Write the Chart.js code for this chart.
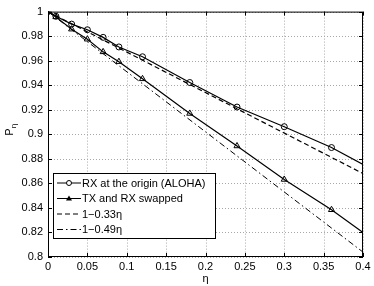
<!DOCTYPE html>
<html>
<head>
<meta charset="utf-8">
<script src="https://cdn.jsdelivr.net/npm/chart.js@4/dist/chart.umd.min.js"></script>
<style>
  html, body { margin: 0; padding: 0; background: #fff; }
  #wrap { width: 374px; height: 286px; }
</style>
</head>
<body>
<div id="wrap"><canvas id="pChart" width="374" height="286"></canvas></div>
<script>
// values
const etaPoints = [0, 0.01, 0.03, 0.05, 0.07, 0.09, 0.12, 0.18, 0.24, 0.30, 0.36, 0.40];
const rxOrigin  = [1, 0.9962, 0.9898, 0.9852, 0.9790, 0.9712, 0.9632, 0.9422, 0.9222, 0.9062, 0.8892, 0.8755];
const swapped   = [1, 0.9957, 0.9857, 0.9775, 0.9672, 0.9592, 0.9452, 0.9170, 0.8905, 0.8632, 0.8385, 0.8200];
const fitEta    = [0, 0.4];
const fit033    = [1, 0.868];
const fit049    = [1, 0.804];
const xTicks = [0, 0.05, 0.1, 0.15, 0.2, 0.25, 0.3, 0.35, 0.4];
const yTicks = [0.8, 0.82, 0.84, 0.86, 0.88, 0.9, 0.92, 0.94, 0.96, 0.98, 1];
const legendLabels = ['RX at the origin (ALOHA)', 'TX and RX swapped', '1\u22120.33\u03b7', '1\u22120.49\u03b7'];

const FONT = 'Liberation Sans, Arial, Helvetica, sans-serif';

function toXY(xs, ys) {
    return xs.map(function (x, i) { return { x: x, y: ys[i] }; });
}

// markers only on the sampled points, not at the line end at 0.4
function markerRadius(r) {
    return function (ctx) { return ctx.dataIndex === etaPoints.length - 1 ? 0 : r; };
}

function fmt(v) {
    return String(Number(v.toFixed(2)));
}

// dotted grid under the lines
const gridPlugin = {
    id: 'dotGrid',
    beforeDatasetsDraw: function (chart) {
        const c = chart.ctx;
        const a = chart.chartArea;
        const xs = chart.scales.x, ys = chart.scales.y;
        c.save();
        c.strokeStyle = '#a8a8a8';
        c.lineWidth = 1;
        c.setLineDash([1, 2]);
        c.beginPath();
        xs.ticks.forEach(function (t) {
            const px = Math.round(xs.getPixelForValue(t.value)) + 0.5;
            c.moveTo(px, a.top); c.lineTo(px, a.bottom);
        });
        ys.ticks.forEach(function (t) {
            const py = Math.round(ys.getPixelForValue(t.value)) + 0.5;
            c.moveTo(a.left, py); c.lineTo(a.right, py);
        });
        c.stroke();
        c.restore();
    }
};

// MATLAB style frame: box, inward ticks, axis labels, legend inside the axes
const framePlugin = {
    id: 'frame',
    afterDraw: function (chart) {
        const c = chart.ctx;
        const a = chart.chartArea;
        const xs = chart.scales.x, ys = chart.scales.y;
        c.save();
        c.strokeStyle = '#000';
        c.lineWidth = 1;
        c.strokeRect(a.left + 0.5, a.top + 0.5, a.right - a.left - 1, a.bottom - a.top - 1);

        c.beginPath();
        xs.ticks.forEach(function (t) {
            const px = Math.round(xs.getPixelForValue(t.value)) + 0.5;
            c.moveTo(px, a.bottom); c.lineTo(px, a.bottom - 4);
            c.moveTo(px, a.top); c.lineTo(px, a.top + 4);
        });
        ys.ticks.forEach(function (t) {
            const py = Math.round(ys.getPixelForValue(t.value)) + 0.5;
            c.moveTo(a.left, py); c.lineTo(a.left + 4, py);
            c.moveTo(a.right, py); c.lineTo(a.right - 4, py);
        });
        c.stroke();

        // axis labels
        c.fillStyle = '#000';
        c.font = '11px ' + FONT;
        c.textAlign = 'center';
        c.textBaseline = 'middle';
        c.fillText('\u03b7', (a.left + a.right) / 2, 279);
        c.save();
        c.translate(10, 132);
        c.rotate(-Math.PI / 2);
        c.fillText('P', 0, 0);
        c.font = '8px ' + FONT;
        c.fillText('\u03b7', 6, 4);
        c.restore();

        // legend box
        const lx = 53, ly = 173, lw = 162, lh = 65;
        c.fillStyle = '#fff';
        c.fillRect(lx, ly, lw, lh);
        c.strokeRect(lx + 0.5, ly + 0.5, lw, lh);
        c.textAlign = 'left';
        c.font = '11px ' + FONT;
        chart.data.datasets.forEach(function (ds, i) {
            const y = ly + 10 + i * 15.5;
            c.strokeStyle = '#000';
            c.lineWidth = 1;
            c.setLineDash(ds.borderDash || []);
            c.beginPath();
            c.moveTo(lx + 4, y); c.lineTo(lx + 28, y);
            c.stroke();
            c.setLineDash([]);
            if (ds.pointStyle === 'circle') {
                c.beginPath();
                c.arc(lx + 16, y, 2.5, 0, Math.PI * 2);
                c.fillStyle = '#fff'; c.fill(); c.stroke();
            } else if (ds.pointStyle === 'triangle') {
                c.beginPath();
                c.moveTo(lx + 16, y - 3); c.lineTo(lx + 19, y + 2); c.lineTo(lx + 13, y + 2);
                c.closePath();
                c.fillStyle = '#000'; c.fill();
            }
            c.fillStyle = '#000';
            c.fillText(legendLabels[i], lx + 29, y + 0.5);
        });
        c.restore();
    }
};

document.addEventListener('DOMContentLoaded', function () {
    const ctx = document.getElementById('pChart').getContext('2d');
    new Chart(ctx, {
        type: 'line',
        data: {
            datasets: [{
                label: legendLabels[0],
                data: toXY(etaPoints, rxOrigin),
                borderColor: '#000',
                borderWidth: 1.2,
                pointStyle: 'circle',
                pointRadius: markerRadius(3),
                pointBackgroundColor: 'rgba(255,255,255,0)',
                pointBorderColor: '#000',
                pointBorderWidth: 1
            }, {
                label: legendLabels[1],
                data: toXY(etaPoints, swapped),
                borderColor: '#000',
                borderWidth: 1.2,
                pointStyle: 'triangle',
                pointRadius: markerRadius(3.5),
                pointBackgroundColor: 'rgba(255,255,255,0)',
                pointBorderColor: '#000',
                pointBorderWidth: 1
            }, {
                label: legendLabels[2],
                data: toXY(fitEta, fit033),
                borderColor: '#000',
                borderWidth: 1.2,
                borderDash: [5, 3],
                pointRadius: 0
            }, {
                label: legendLabels[3],
                data: toXY(fitEta, fit049),
                borderColor: '#000',
                borderWidth: 1,
                borderDash: [6, 3, 1.5, 3],
                pointRadius: 0
            }]
        },
        options: {
            responsive: false,
            animation: false,
            events: [],
            layout: { padding: { left: 0, right: 11, top: 8, bottom: 0 } },
            plugins: {
                legend: { display: false },
                tooltip: { enabled: false },
                title: { display: false }
            },
            scales: {
                x: {
                    type: 'linear',
                    min: 0,
                    max: 0.4,
                    afterFit: function (s) { s.height = 29; },
                    afterBuildTicks: function (s) {
                        s.ticks = xTicks.map(function (v) { return { value: v }; });
                    },
                    ticks: {
                        callback: fmt,
                        color: '#000',
                        font: { family: FONT, size: 11 },
                        padding: 3,
                        maxRotation: 0,
                        autoSkip: false
                    },
                    grid: { display: false, drawTicks: false },
                    border: { display: false }
                },
                y: {
                    type: 'linear',
                    min: 0.8,
                    max: 1,
                    afterFit: function (s) { s.width = 48; },
                    afterBuildTicks: function (s) {
                        s.ticks = yTicks.map(function (v) { return { value: v }; });
                    },
                    ticks: {
                        callback: fmt,
                        color: '#000',
                        font: { family: FONT, size: 11 },
                        padding: 5,
                        autoSkip: false
                    },
                    grid: { display: false, drawTicks: false },
                    border: { display: false }
                }
            }
        },
        plugins: [gridPlugin, framePlugin]
    });
});
</script>
</body>
</html>
